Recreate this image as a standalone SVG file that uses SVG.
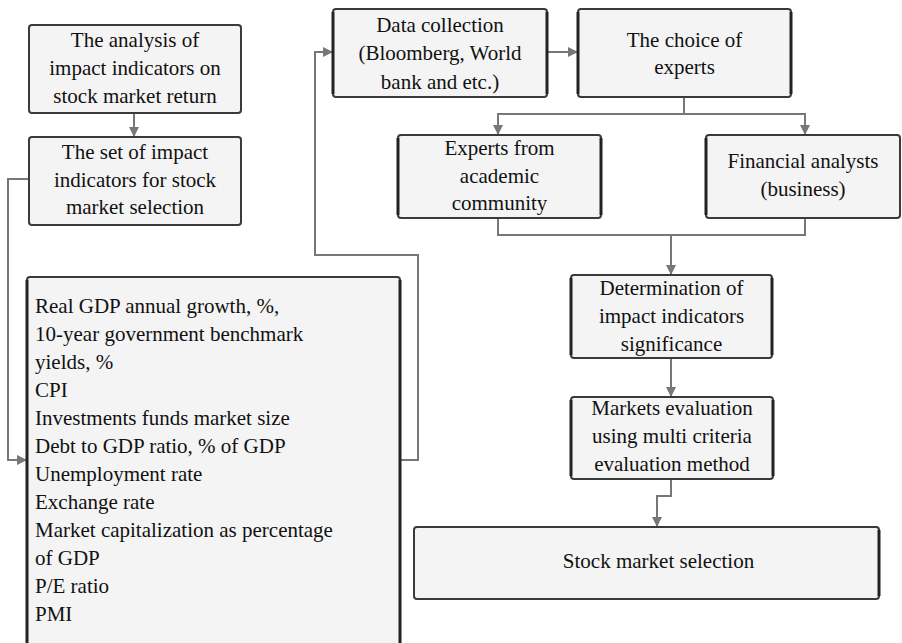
<svg xmlns="http://www.w3.org/2000/svg" width="902" height="643" viewBox="0 0 902 643" font-family="Liberation Serif, Times New Roman, serif" font-size="21">
<style>
.box{fill:#f4f4f4;stroke:#3a3a3a;stroke-width:2}
.side{stroke:#222;stroke-width:3;fill:none}
.t{text-anchor:middle}
.c{fill:none;stroke:#777;stroke-width:2}
</style>
<defs>
<marker id="ah" markerWidth="10" markerHeight="10" refX="9" refY="5" orient="auto" markerUnits="userSpaceOnUse">
<path d="M0,0 L10,5 L0,10 Z" fill="#777"/>
</marker>
</defs>
<g id="connectors">
<path class="c" d="M134,113 V136" marker-end="url(#ah)"/>
<path class="c" d="M29,179 H8 V460 H26" marker-end="url(#ah)"/>
<path class="c" d="M400,460 H418 V255 H315 V52 H332" marker-end="url(#ah)"/>
<path class="c" d="M547,52 H577" marker-end="url(#ah)"/>
<path class="c" d="M684,97 V114 H498 V134" marker-end="url(#ah)"/>
<path class="c" d="M684,114 H805 V134" marker-end="url(#ah)"/>
<path class="c" d="M498,218 V235 H805 V218"/>
<path class="c" d="M671,235 V274" marker-end="url(#ah)"/>
<path class="c" d="M671,358 V396" marker-end="url(#ah)"/>
<path class="c" d="M671,479 V496 H657 V526" marker-end="url(#ah)"/>
</g>
<g id="n1" fill="#111">
<rect class="box" x="29" y="25" width="212" height="88" rx="3"/>
<text class="t" x="135" y="47">The analysis of</text>
<text class="t" x="135" y="75">impact indicators on</text>
<text class="t" x="135" y="103">stock market return</text>
</g>
<g id="n2" fill="#111">
<rect class="box" x="29" y="137" width="212" height="88" rx="3"/>
<text class="t" x="135" y="159">The set of impact</text>
<text class="t" x="135" y="187">indicators for stock</text>
<text class="t" x="135" y="214">market selection</text>
</g>
<g id="n3" fill="#111">
<rect class="box" x="27" y="277" width="373" height="370" rx="3"/>
<path class="side" d="M27,280 V643 M400,280 V643"/>
<text x="35" y="313">Real GDP annual growth, %,</text>
<text x="35" y="341">10-year government benchmark</text>
<text x="35" y="369">yields, %</text>
<text x="35" y="397">CPI</text>
<text x="35" y="425">Investments funds market size</text>
<text x="35" y="453">Debt to GDP ratio, % of GDP</text>
<text x="35" y="481">Unemployment rate</text>
<text x="35" y="509">Exchange rate</text>
<text x="35" y="537">Market capitalization as percentage</text>
<text x="35" y="565">of GDP</text>
<text x="35" y="593">P/E ratio</text>
<text x="35" y="621">PMI</text>
</g>
<g id="n4" fill="#111">
<rect class="box" x="333" y="9" width="214" height="88" rx="3"/>
<path class="side" d="M333,12 V94 M547,12 V94"/>
<text class="t" x="440" y="32">Data collection</text>
<text class="t" x="440" y="60">(Bloomberg, World</text>
<text class="t" x="440" y="89">bank and etc.)</text>
</g>
<g id="n5" fill="#111">
<rect class="box" x="578" y="9" width="213" height="88" rx="3"/>
<path class="side" d="M578,12 V94 M791,12 V94"/>
<text class="t" x="684.5" y="47">The choice of</text>
<text class="t" x="684.5" y="74">experts</text>
</g>
<g id="n6" fill="#111">
<rect class="box" x="398" y="135" width="203" height="83" rx="3"/>
<path class="side" d="M398,138 V215 M601,138 V215"/>
<text class="t" x="499.5" y="155">Experts from</text>
<text class="t" x="499.5" y="183">academic</text>
<text class="t" x="499.5" y="210">community</text>
</g>
<g id="n7" fill="#111">
<rect class="box" x="706" y="135" width="194" height="83" rx="3"/>
<path class="side" d="M706,138 V215"/>
<text class="t" x="803" y="168">Financial analysts</text>
<text class="t" x="803" y="196">(business)</text>
</g>
<g id="n8" fill="#111">
<rect class="box" x="571" y="275" width="201" height="83" rx="3"/>
<path class="side" d="M571,278 V355 M772,278 V355"/>
<text class="t" x="671.5" y="295">Determination of</text>
<text class="t" x="671.5" y="323">impact indicators</text>
<text class="t" x="671.5" y="351">significance</text>
</g>
<g id="n9" fill="#111">
<rect class="box" x="571" y="397" width="202" height="82" rx="3"/>
<path class="side" d="M571,400 V476 M773,400 V476"/>
<text class="t" x="672" y="415">Markets evaluation</text>
<text class="t" x="672" y="443">using multi criteria</text>
<text class="t" x="672" y="471">evaluation method</text>
</g>
<g id="n10" fill="#111">
<rect class="box" x="414" y="527" width="465" height="72" rx="3"/>
<path class="side" d="M879,530 V596"/>
<text class="t" x="658.5" y="568">Stock market selection</text>
</g>
</svg>
